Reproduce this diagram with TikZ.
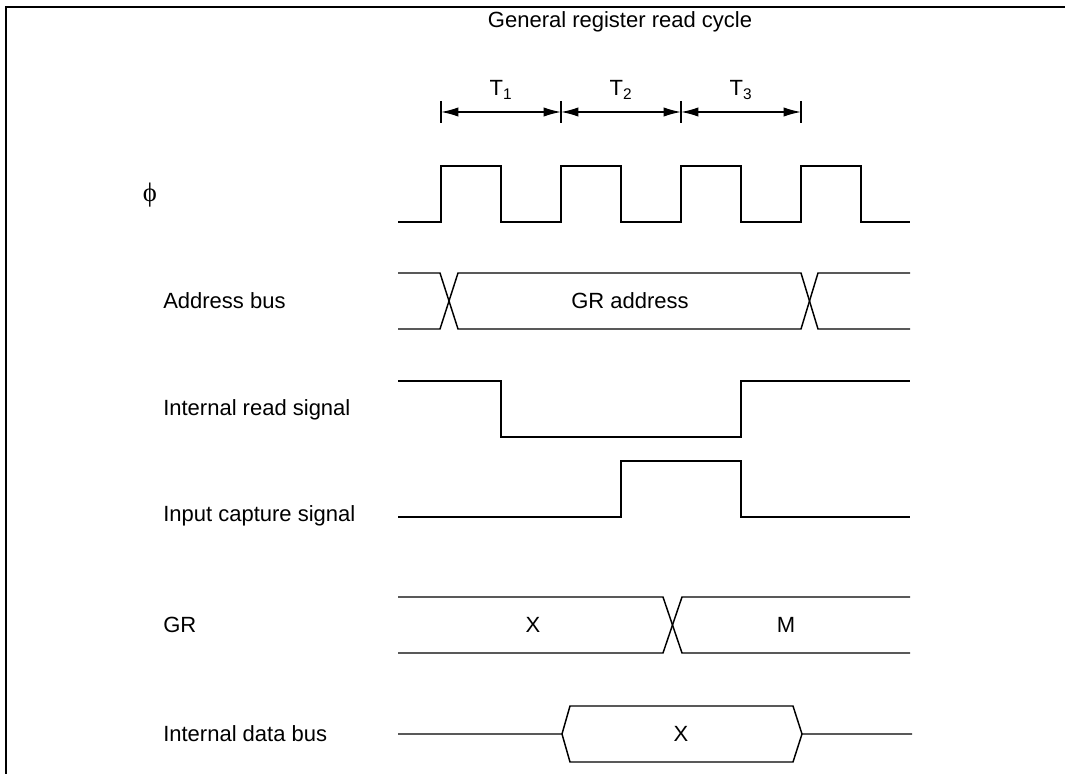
\documentclass[tikz,border=0pt]{standalone}
\usepackage{fontspec}
\setmainfont{Liberation Sans}
\newfontfamily\phifont{Liberation Serif}
\usetikzlibrary{arrows.meta}
\begin{document}
\begin{tikzpicture}[x=0.75pt,y=-0.75pt,
  sig/.style={line width=1.1pt,line join=miter},
  lbl/.style={anchor=west,inner sep=0pt,font=\fontsize{16.5}{20}\selectfont},
  txt/.style={inner sep=0pt,font=\fontsize{16.5}{20}\selectfont},
  tick/.style={line width=1.1pt},
  dim/.style={line width=1.1pt,{Latex[length=13pt,width=7pt]}-{Latex[length=13pt,width=7pt]}}]
\useasboundingbox (0,0) rectangle (1065,774);
% frame
\draw[line width=1.6pt] (6,774) -- (6,7) -- (1065,7);
% title
\node[txt] (title) at (620,22) {General register read cycle};
% period markers
\foreach \n/\x in {a/441,b/561,c/681,d/801}{
  \coordinate (t\n) at (\x,112);
  \draw[tick] (\x,101) -- (\x,123);
}
\draw[dim] (ta) -- (tb);
\draw[dim] (tb) -- (tc);
\draw[dim] (tc) -- (td);
\node[txt] (T1) at (501,90) {T\textsubscript{1}};
\node[txt] (T2) at (621,90) {T\textsubscript{2}};
\node[txt] (T3) at (741,90) {T\textsubscript{3}};
% labels
\node[txt,font=\fontsize{20}{24}\selectfont] (lphi) at (150,195) {\phifont ϕ};
\node[lbl] (laddr) at (163,301) {Address bus};
\node[lbl] (lrd) at (163,410) {Internal read signal};
\node[lbl] (lcap) at (163,516) {Input capture signal};
\node[lbl] (lgr) at (163,625) {GR};
\node[lbl] (ldb) at (163,734) {Internal data bus};
% phi clock
\draw[sig] (398,222) -- (441,222) -- (441,166) -- (501,166) -- (501,222) -- (561,222) -- (561,166) -- (621,166) -- (621,222) -- (681,222) -- (681,166) -- (741,166) -- (741,222) -- (801,222) -- (801,166) -- (861,166) -- (861,222) -- (910,222);
% address bus
\draw[sig] (398,273) -- (440,273) -- (458,329) -- (801,329) -- (818,273) -- (910,273);
\draw[sig] (398,329) -- (440,329) -- (458,273) -- (801,273) -- (818,329) -- (910,329);
\node[txt] (ga) at (630,301) {GR address};
% internal read
\draw[sig] (398,381) -- (501,381) -- (501,437) -- (741,437) -- (741,381) -- (910,381);
% input capture
\draw[sig] (398,517) -- (621,517) -- (621,461) -- (741,461) -- (741,517) -- (910,517);
% GR
\draw[sig] (398,597) -- (663,597) -- (682,653) -- (910,653);
\draw[sig] (398,653) -- (663,653) -- (682,597) -- (910,597);
\node[txt] (gx) at (533,625) {X};
\node[txt] (gm) at (786,625) {M};
% internal data bus
\draw[sig] (398,734) -- (562,734) -- (570,706) -- (793,706) -- (802,734) -- (912,734);
\draw[sig] (562,734) -- (570,762) -- (793,762) -- (802,734);
\node[txt] (dx) at (681,734) {X};
\end{tikzpicture}
\end{document}
